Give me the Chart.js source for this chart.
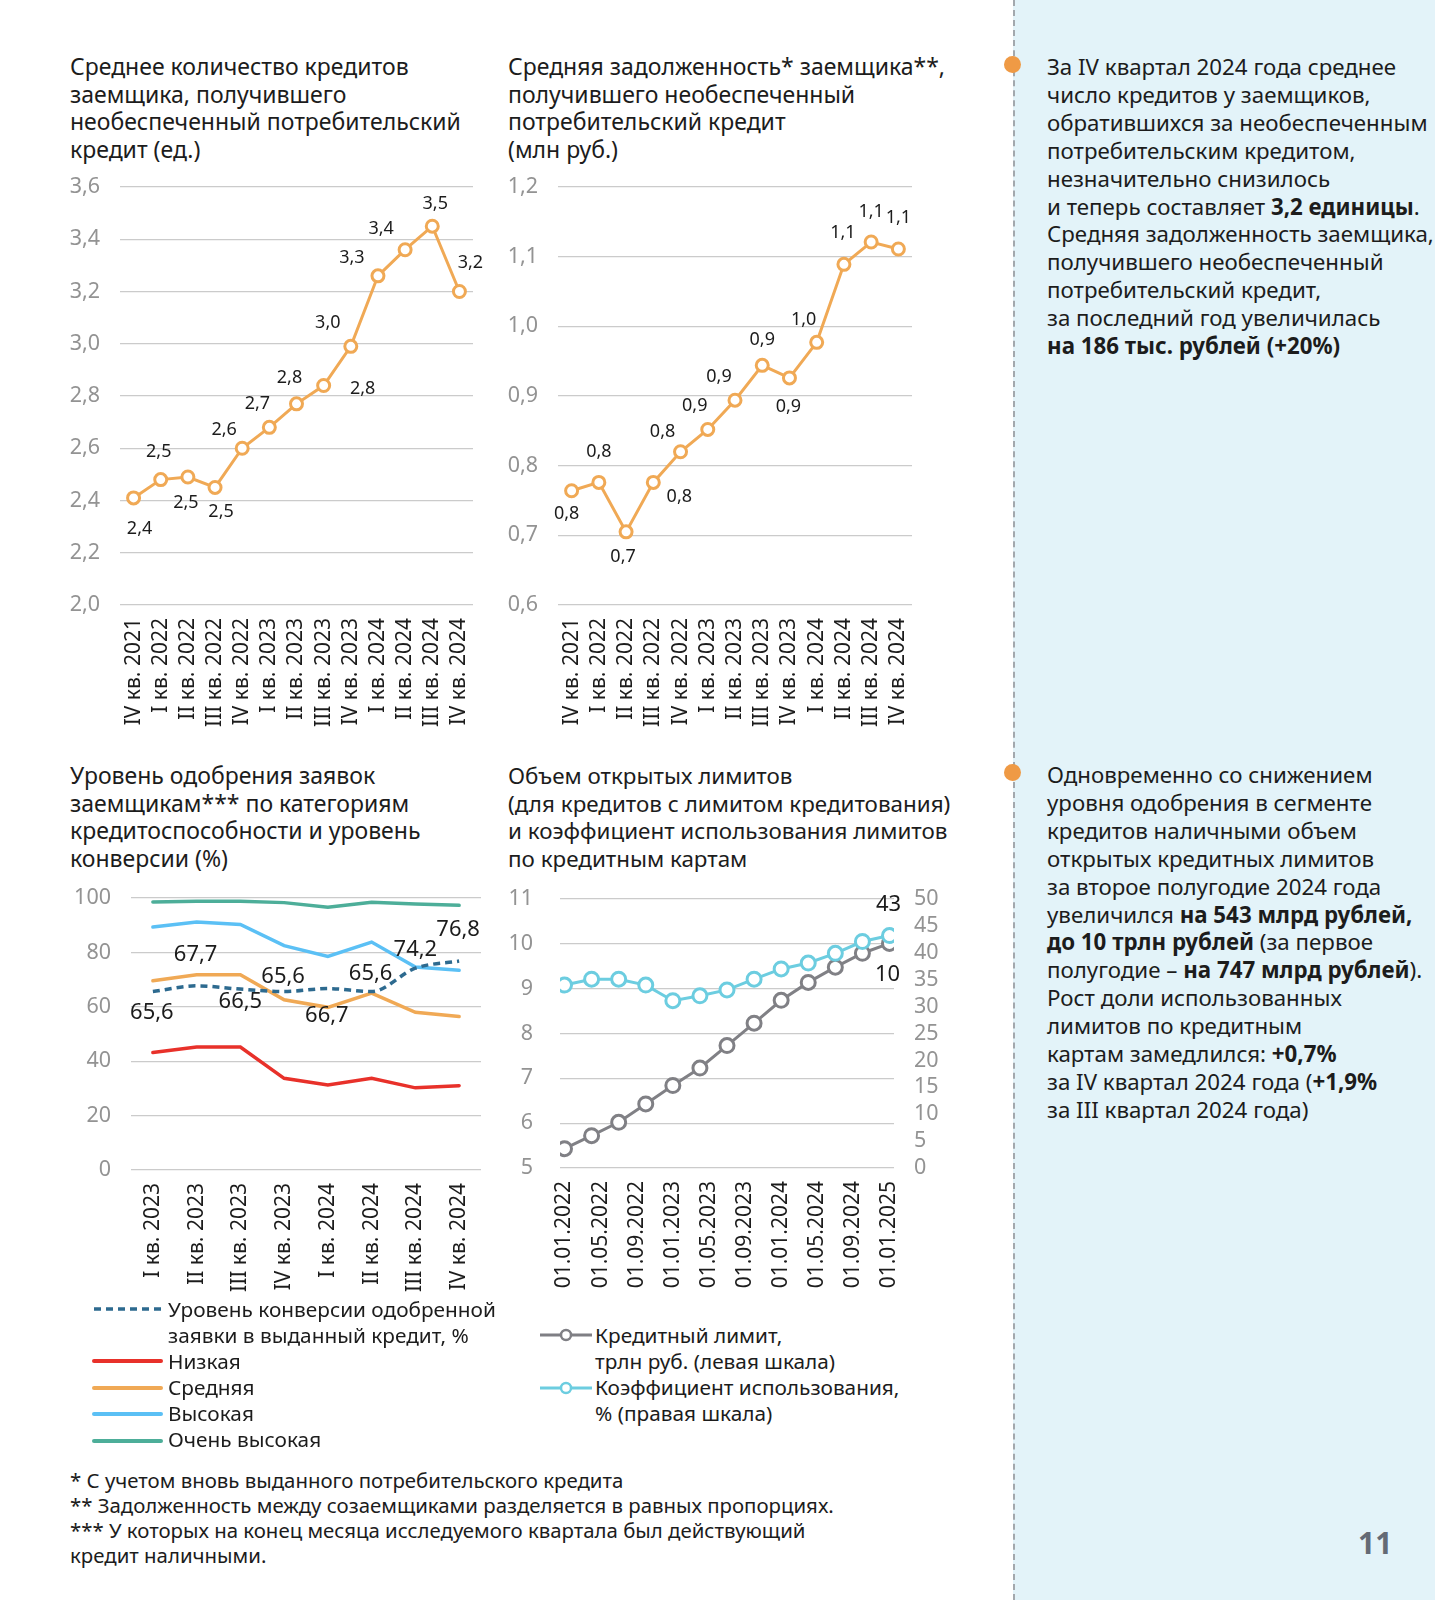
<!DOCTYPE html>
<html lang="ru">
<head>
<meta charset="utf-8">
<title>Кредиты заемщиков</title>
<script src="https://cdn.jsdelivr.net/npm/chart.js@4.4.1/dist/chart.umd.min.js"></script>
<style>
  html, body { margin: 0; padding: 0; background: #fff; }
  #page { position: relative; width: 1435px; height: 1600px; overflow: hidden; font-family: "Noto Sans", sans-serif; color: #1c1c1c; }
  .abs { position: absolute; }
  .title { position: absolute; font-size: 23px; line-height: 27.7px; white-space: nowrap; }
  .box { position: absolute; }
  .side { position: absolute; left: 1013px; top: 0; width: 422px; height: 1600px; background: #e3f3f9; border-left: 2px dashed #a3a8ad; box-sizing: border-box; }
  .dot { position: absolute; width: 17px; height: 17px; border-radius: 50%; background: #ef9a45; }
  .note { position: absolute; left: 1047px; font-size: 22.3px; line-height: 27.9px; white-space: nowrap; }
  .note b { font-weight: 700; }
  .lg { position: absolute; font-size: 20.8px; line-height: 26px; white-space: nowrap; }
  .foot { position: absolute; left: 70px; top: 1468px; font-size: 20.4px; line-height: 25px; white-space: nowrap; }
  .pnum { position: absolute; left: 1358px; top: 1522px; font-size: 30px; font-weight: 700; color: #646a75; }
</style>
</head>
<body>
<div id="page">
  <div class="side"></div>
  <div class="dot" style="left:1004px;top:56px"></div>
  <div class="dot" style="left:1004px;top:764px"></div>

  <div class="title" style="left:70px;top:53px">Среднее количество кредитов<br>заемщика, получившего<br>необеспеченный потребительский<br>кредит (ед.)</div>
  <div class="title" style="left:508px;top:53px">Средняя задолженность* заемщика**,<br>получившего необеспеченный<br>потребительский кредит<br>(млн руб.)</div>
  <div class="title" style="left:70px;top:762px">Уровень одобрения заявок<br>заемщикам*** по категориям<br>кредитоспособности и уровень<br>конверсии (%)</div>
  <div class="title" style="left:508px;top:762px;font-size:22.4px">Объем открытых лимитов<br>(для кредитов с лимитом кредитования)<br>и коэффициент использования лимитов<br>по кредитным картам</div>

  <div class="box" style="left:60px;top:175px;width:430px;height:560px"><canvas id="c1"></canvas></div>
  <div class="box" style="left:500px;top:175px;width:430px;height:560px"><canvas id="c2"></canvas></div>
  <div class="box" style="left:60px;top:886px;width:440px;height:414px"><canvas id="c3"></canvas></div>
  <div class="box" style="left:490px;top:887px;width:464px;height:411px"><canvas id="c4"></canvas></div>

  <!-- legend, approval chart -->
  <svg class="abs" style="left:90px;top:1290px" width="75" height="165">
    <line x1="4" y1="19" x2="71" y2="19" stroke="#2d6a8f" stroke-width="3.5" stroke-dasharray="7 5"/>
    <line x1="4" y1="71" x2="71" y2="71" stroke="#e8312a" stroke-width="4" stroke-linecap="round"/>
    <line x1="4" y1="98" x2="71" y2="98" stroke="#f0a955" stroke-width="4" stroke-linecap="round"/>
    <line x1="4" y1="124" x2="71" y2="124" stroke="#5bc0f5" stroke-width="4" stroke-linecap="round"/>
    <line x1="4" y1="151" x2="71" y2="151" stroke="#4dae99" stroke-width="4" stroke-linecap="round"/>
  </svg>
  <div class="lg" style="left:168px;top:1296px">Уровень конверсии одобренной<br>заявки в выданный кредит, %<br>Низкая<br>Средняя<br>Высокая<br>Очень высокая</div>

  <!-- legend, limits chart -->
  <svg class="abs" style="left:536px;top:1320px" width="60" height="85">
    <line x1="4" y1="15" x2="56" y2="15" stroke="#7f7f84" stroke-width="3"/>
    <circle cx="30" cy="15" r="5" fill="#fff" stroke="#7f7f84" stroke-width="2.5"/>
    <line x1="4" y1="68" x2="56" y2="68" stroke="#6ccde0" stroke-width="3"/>
    <circle cx="30" cy="68" r="5" fill="#fff" stroke="#6ccde0" stroke-width="2.5"/>
  </svg>
  <div class="lg" style="left:595px;top:1322px">Кредитный лимит,<br>трлн руб. (левая шкала)<br>Коэффициент использования,<br>% (правая шкала)</div>

  <div class="foot">* С учетом вновь выданного потребительского кредита<br>** Задолженность между созаемщиками разделяется в равных пропорциях.<br>*** У которых на конец месяца исследуемого квартала был действующий<br>кредит наличными.</div>

  <div class="note" style="top:53px">За IV квартал 2024 года среднее<br>число кредитов у заемщиков,<br>обратившихся за необеспеченным<br>потребительским кредитом,<br>незначительно снизилось<br>и теперь составляет <b>3,2 единицы</b>.<br>Средняя задолженность заемщика,<br>получившего необеспеченный<br>потребительский кредит,<br>за последний год увеличилась<br><b>на 186 тыс. рублей (+20%)</b></div>
  <div class="note" style="top:761px">Одновременно со снижением<br>уровня одобрения в сегменте<br>кредитов наличными объем<br>открытых кредитных лимитов<br>за второе полугодие 2024 года<br>увеличился <b>на 543 млрд рублей,<br>до 10 трлн рублей</b> (за первое<br>полугодие – <b>на 747 млрд рублей</b>).<br>Рост доли использованных<br>лимитов по кредитным<br>картам замедлился: <b>+0,7%</b><br>за IV квартал 2024 года (<b>+1,9%</b><br>за III квартал 2024 года)</div>

  <div class="pnum">11</div>
</div>

<script>
// ---- data ----
const quarters = ['IV кв. 2021', 'I кв. 2022', 'II кв. 2022', 'III кв. 2022', 'IV кв. 2022',
  'I кв. 2023', 'II кв. 2023', 'III кв. 2023', 'IV кв. 2023',
  'I кв. 2024', 'II кв. 2024', 'III кв. 2024', 'IV кв. 2024'];
const loansPerBorrower = [2.41, 2.48, 2.49, 2.45, 2.60, 2.68, 2.77, 2.84, 2.99, 3.26, 3.36, 3.45, 3.20];
const debtPerBorrower = [0.764, 0.776, 0.705, 0.776, 0.820, 0.852, 0.894, 0.944, 0.926, 0.977, 1.089, 1.121, 1.111];

const approvalQuarters = ['I кв. 2023', 'II кв. 2023', 'III кв. 2023', 'IV кв. 2023',
  'I кв. 2024', 'II кв. 2024', 'III кв. 2024', 'IV кв. 2024'];
const conversionRate = [65.6, 67.7, 66.5, 65.6, 66.7, 65.6, 74.2, 76.8];
const approvalLow = [43.2, 45.2, 45.2, 33.7, 31.3, 33.7, 30.2, 31.0];
const approvalMid = [69.6, 71.8, 71.8, 62.6, 59.8, 65.0, 58.0, 56.4];
const approvalHigh = [89.3, 91.2, 90.3, 82.5, 78.5, 83.8, 74.6, 73.4];
const approvalTop = [98.5, 98.8, 98.8, 98.3, 96.6, 98.4, 97.8, 97.3];

const limitDates = ['01.01.2022', '01.04.2022', '01.07.2022', '01.10.2022', '01.01.2023',
  '01.04.2023', '01.07.2023', '01.10.2023', '01.01.2024', '01.04.2024', '01.07.2024',
  '01.10.2024', '01.01.2025'];
const creditLimit = [5.43, 5.72, 6.02, 6.43, 6.84, 7.23, 7.73, 8.23, 8.74, 9.14, 9.48, 9.79, 10.01];
const usageRatio = [34.0, 35.1, 35.1, 34.0, 31.1, 32.0, 33.1, 35.1, 37.0, 38.1, 39.9, 42.1, 43.2];
const limitTickLabels = ['01.01.2022', '01.05.2022', '01.09.2022', '01.01.2023', '01.05.2023',
  '01.09.2023', '01.01.2024', '01.05.2024', '01.09.2024', '01.01.2025'];

// label offsets from the point (px), styling only
const offs1 = [[6, 31], [-2, -28], [-2, 26], [6, 24], [-18, -18], [-12, -23], [-7, -26],
  [39, 3], [-23, -23], [-26, -18], [-24, -21], [3, -22], [11, -29]];
const offs2 = [[-5, 23], [0, -31], [-3, 25], [26, 14], [-18, -20], [-13, -24], [-16, -23],
  [0, -25], [-1, 29], [-13, -22], [-1, -31], [0, -30], [0, -31]];
const offs3 = [[-1, 21], [-1, -31], [0, 13], [-1, -15], [-1, 27], [-1, -18], [0, -18], [-1, -31]];

function monthIndex(s) {
  const p = s.split('.');
  return (parseInt(p[2], 10) - 2022) * 12 + parseInt(p[1], 10) - 1;
}
const fmt = (v, d) => Number(v).toFixed(d).replace('.', ',');

const FONT = '"Noto Sans", sans-serif';
Chart.defaults.font.family = FONT;
Chart.defaults.animation = false;

const pointLabels = {
  id: 'pointLabels',
  afterDatasetsDraw(chart, args, opts) {
    if (!opts.sets) return;
    const ctx = chart.ctx;
    ctx.save();
    ctx.font = opts.size + 'px ' + FONT;
    ctx.fillStyle = '#1c1c1c';
    ctx.textAlign = 'center';
    ctx.textBaseline = 'middle';
    opts.sets.forEach(s => {
      const meta = chart.getDatasetMeta(s.dataset);
      const data = chart.data.datasets[s.dataset].data;
      meta.data.forEach((el, i) => {
        const o = s.offsets[i];
        if (!o) return;
        let v = data[i];
        if (typeof v === 'object') v = v.y;
        ctx.fillText(fmt(v, s.digits), el.x + o[0], el.y + o[1]);
      });
    });
    ctx.restore();
  }
};

function xCat(height) {
  return {
    offset: true,
    grid: { display: false, drawTicks: false },
    border: { display: false },
    ticks: { minRotation: 90, maxRotation: 90, autoSkip: false, color: '#1c1c1c', font: { size: 21 }, padding: 13 },
    afterFit: s => { s.height = height; s.paddingLeft = 0; s.paddingRight = 0; }
  };
}
function yLin(min, max, step, width, pad, digits, extra) {
  return Object.assign({
    min: min, max: max,
    grid: { color: '#cbcbcb', drawTicks: false, lineWidth: 1.2 },
    border: { display: false },
    ticks: { stepSize: step, autoSkip: false, maxTicksLimit: 30, padding: pad, color: '#939393', font: { size: 21.5 }, callback: v => fmt(v, digits) },
    afterFit: s => { s.width = width; s.paddingTop = 0; s.paddingBottom = 0; }
  }, extra || {});
}
function orangeLine(data) {
  return {
    data: data,
    borderColor: '#f0a955', borderWidth: 3,
    pointRadius: 6, pointBorderWidth: 3, pointBackgroundColor: '#fff', pointBorderColor: '#f0a955',
    tension: 0
  };
}
const basePlugins = { legend: { display: false }, tooltip: { enabled: false } };

// chart 1: loans per borrower
new Chart(document.getElementById('c1'), {
  type: 'line',
  data: { labels: quarters, datasets: [orangeLine(loansPerBorrower)] },
  options: {
    responsive: true, maintainAspectRatio: false,
    layout: { padding: { top: 12, right: 17, left: 0, bottom: 0 } },
    plugins: Object.assign({ pointLabels: { size: 18, sets: [{ dataset: 0, digits: 1, offsets: offs1 }] } }, basePlugins),
    scales: { x: xCat(130), y: yLin(2.0, 3.6, 0.2, 60, 20, 1) }
  },
  plugins: [pointLabels]
});

// chart 2: debt per borrower
new Chart(document.getElementById('c2'), {
  type: 'line',
  data: { labels: quarters, datasets: [orangeLine(debtPerBorrower)] },
  options: {
    responsive: true, maintainAspectRatio: false,
    layout: { padding: { top: 12, right: 18, left: 0, bottom: 0 } },
    plugins: Object.assign({ pointLabels: { size: 18, sets: [{ dataset: 0, digits: 1, offsets: offs2 }] } }, basePlugins),
    scales: { x: xCat(130), y: yLin(0.6, 1.2, 0.1, 58, 20, 1) }
  },
  plugins: [pointLabels]
});

// chart 3: approval levels
function flat(data, color) {
  return { data: data, borderColor: color, borderWidth: 3.5, pointRadius: 0, tension: 0, borderCapStyle: 'round' };
}
new Chart(document.getElementById('c3'), {
  type: 'line',
  data: {
    labels: approvalQuarters,
    datasets: [
      { data: conversionRate, borderColor: '#2d6a8f', borderWidth: 3.5, borderDash: [7, 5], pointRadius: 0, cubicInterpolationMode: 'monotone' },
      flat(approvalLow, '#e8312a'),
      flat(approvalMid, '#f0a955'),
      flat(approvalHigh, '#5bc0f5'),
      flat(approvalTop, '#4dae99')
    ]
  },
  options: {
    responsive: true, maintainAspectRatio: false,
    layout: { padding: { top: 12, right: 19, left: 0, bottom: 0 } },
    plugins: Object.assign({ pointLabels: { size: 22, sets: [{ dataset: 0, digits: 1, offsets: offs3 }] } }, basePlugins),
    scales: { x: xCat(130), y: yLin(0, 100, 20, 71, 20, 0) }
  },
  plugins: [pointLabels]
});

// chart 4: open limits and usage ratio
const limitMonths = limitDates.map(monthIndex);
const tickMonths = limitTickLabels.map(monthIndex);
const limitOffs = creditLimit.map((v, i) => i === creditLimit.length - 1 ? [-2, 31] : null);
const usageOffs = usageRatio.map((v, i) => i === usageRatio.length - 1 ? [-1, -31] : null);
function markerLine(data, color, axis) {
  return {
    data: data, yAxisID: axis,
    borderColor: color, borderWidth: 3,
    pointRadius: 7, pointBorderWidth: 3, pointBackgroundColor: '#fff', pointBorderColor: color,
    tension: 0
  };
}
new Chart(document.getElementById('c4'), {
  type: 'line',
  data: {
    datasets: [
      markerLine(usageRatio.map((v, i) => ({ x: limitMonths[i], y: v })), '#6ccde0', 'y1'),
      markerLine(creditLimit.map((v, i) => ({ x: limitMonths[i], y: v })), '#808085', 'y')
    ]
  },
  options: {
    responsive: true, maintainAspectRatio: false,
    layout: { padding: { top: 12, right: 0, left: 0, bottom: 0 } },
    plugins: Object.assign({ pointLabels: { size: 22, sets: [
      { dataset: 0, digits: 0, offsets: usageOffs },
      { dataset: 1, digits: 0, offsets: limitOffs }
    ] } }, basePlugins),
    scales: {
      x: {
        type: 'linear', min: -0.5, max: 36.5,
        grid: { display: false, drawTicks: false },
        border: { display: false },
        afterBuildTicks: s => { s.ticks = tickMonths.map(m => ({ value: m })); },
        ticks: {
          minRotation: 90, maxRotation: 90, autoSkip: false, color: '#1c1c1c', font: { size: 21 }, padding: 13,
          callback: v => limitTickLabels[tickMonths.indexOf(v)]
        },
        afterFit: s => { s.height = 130; s.paddingLeft = 0; s.paddingRight = 0; }
      },
      y: yLin(5, 11, 1, 70, 27, 0, { position: 'left' }),
      y1: yLin(0, 50, 5, 60, 20, 0, { position: 'right', grid: { display: false, drawTicks: false } })
    }
  },
  plugins: [pointLabels]
});
</script>
</body>
</html>
